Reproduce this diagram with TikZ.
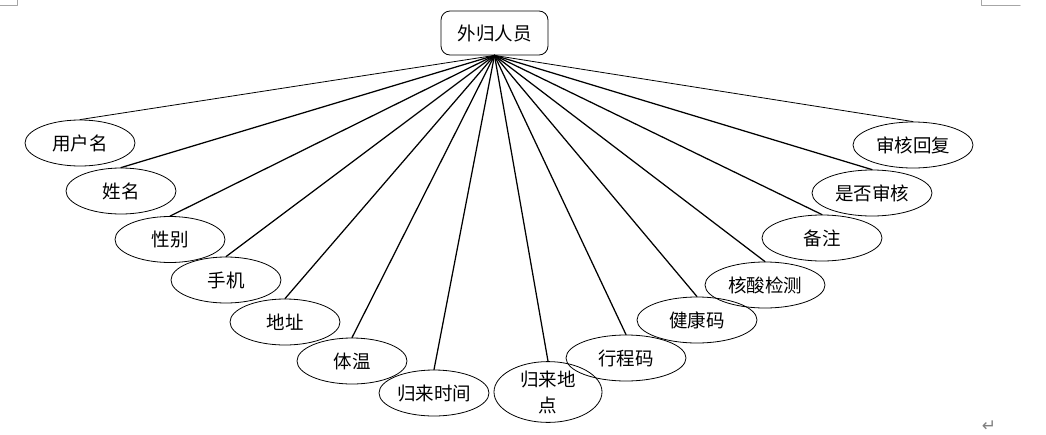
\documentclass[tikz,border=0pt]{standalone}
\usepackage{fontspec}
\setmainfont{Noto Sans CJK SC}
\newfontfamily\symfont{DejaVu Sans}
\usetikzlibrary{shapes.geometric}
\begin{document}
\begin{tikzpicture}[x=1pt,y=-1pt, line join=round, line cap=round,
  font=\fontsize{18.5}{20}\selectfont,
  attr/.style={ellipse,draw,line width=0.8pt,minimum width=110pt,minimum height=46pt,inner sep=0pt},
  wattr/.style={attr,minimum width=120pt},
  link/.style={line width=1.25pt}]
\useasboundingbox (0,0) rectangle (1046,434);
% page marks
\draw[gray!70,line width=1pt] (0,5)--(17,5)--(17,0);
\draw[gray!70,line width=1pt] (981,0)--(981,5)--(1020,5);
\node[text=gray,font=\symfont\fontsize{17}{17}\selectfont] (ret) at (989,426) {↵};
% entity
\node[draw,rounded corners=9pt,line width=0.8pt,minimum width=107pt,minimum height=44pt] (ren) at (494.5,33) {外归人员};
% attributes
\foreach \px/\py/\nm/\txt in {80/143/yhm/用户名, 121/191/xm/姓名, 170/239.5/xb/性别,
  226/280/sj/手机, 285/322/dz/地址, 352/361/tw/体温, 434/393/sjian/归来时间}
  \node[attr] (\nm) at (\px,\py) {\txt};
\node[attr,minimum width=108pt,align=center,font=\fontsize{18.5}{26}\selectfont] (dd) at (548,392) {归来地\\点};
\foreach \px/\py/\nm/\txt in {626/358/xcm/行程码, 697/320/jkm/健康码, 765/285/hs/核酸检测,
  822/238/bz/备注, 872/193/sh/是否审核, 913/145/hf/审核回复}
  \node[wattr] (\nm) at (\px,\py) {\txt};
% links
\draw[line width=0.8pt] (ren.south)--(yhm.north);
\draw[line width=0.8pt] (ren.south)--(hf.north);
\foreach \nm in {xm,xb,sj,dz,tw,sjian,dd,xcm,jkm,hs,bz,sh}
  \draw[link] (ren.south)--(\nm.north);
\end{tikzpicture}
\end{document}
